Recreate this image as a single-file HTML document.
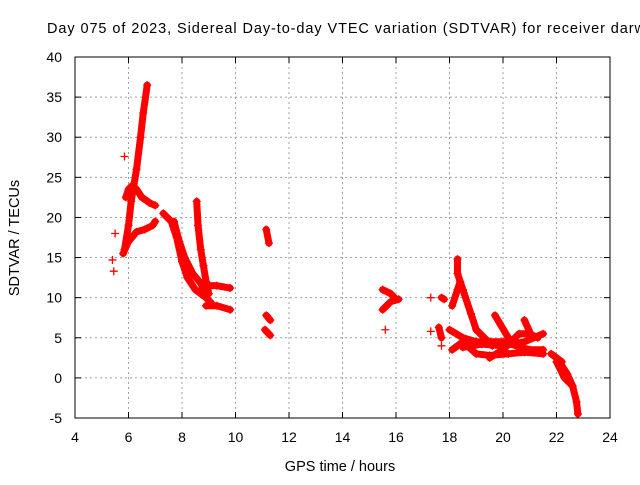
<!DOCTYPE html>
<html><head><meta charset="utf-8"><style>
body{margin:0;background:#fff;width:640px;height:480px;overflow:hidden}
svg{font-family:"Liberation Sans",sans-serif}
</style></head><body>
<svg id="chart" width="640" height="480" viewBox="0 0 640 480">
<rect width="640" height="480" fill="#fff"/>
<text x="47" y="33" font-size="14.5" fill="#000" textLength="598" lengthAdjust="spacing">Day 075 of 2023, Sidereal Day-to-day VTEC variation (SDTVAR) for receiver darw</text>
<g id="grid"></g><g id="marks"></g><g id="axes"></g>
<text transform="translate(19,238) rotate(-90)" text-anchor="middle" font-size="14.5">SDTVAR / TECUs</text>
<text x="340" y="471" text-anchor="middle" font-size="14.5">GPS time / hours</text>
</svg>
<script>
const xTicks=[4,6,8,10,12,14,16,18,20,22,24];
const yTicks=[-5,0,5,10,15,20,25,30,35,40];
const tracks=[
[[5.85,16],[6.0,19],[6.1,22],[6.3,26],[6.45,30],[6.55,33],[6.7,36.5]],
[[5.9,22.5],[6.0,23.5],[6.15,24],[6.3,23.5],[6.5,22.5],[6.8,21.8],[7.0,21.5]],
[[5.8,15.5],[6.0,17],[6.3,18.2],[6.6,18.5],[6.9,19],[7.0,19.5]],
[[7.3,20.5],[7.6,19.5],[7.8,17.5],[8.0,14.5],[8.2,12.5],[8.5,11],[8.9,10],[9.1,9.3]],
[[7.7,19.5],[7.9,17],[8.1,15],[8.4,13],[8.7,11.8],[8.8,11]],
[[8.55,22],[8.6,19],[8.7,16],[8.8,14],[8.9,12],[9.0,10.5]],
[[8.9,11.5],[9.3,11.5],[9.8,11.2]],
[[8.9,9],[9.3,9],[9.8,8.5]],
[[5.5,18]],[[5.4,14.7]],[[5.45,13.3]],[[5.85,27.6]],
[[11.15,18.5],[11.25,16.8]],[[11.15,7.8],[11.3,7.2]],[[11.1,6],[11.3,5.3]],
[[15.5,11],[15.8,10.5],[16.0,9.8]],[[15.5,8.5],[15.8,9.5],[16.1,9.8]],[[15.6,6]],
[[17.3,10]],[[17.3,5.8]],[[17.7,10],[17.8,9.8]],[[17.6,6.3],[17.7,5]],[[17.7,4]],
[[18.3,14.8],[18.3,13],[18.5,11],[18.8,8],[19.0,6],[19.3,5],[19.6,4]],
[[18.1,9],[18.3,11],[18.4,12]],
[[18.0,6],[18.5,5],[19,4.5],[19.5,4.5],[20,4.5],[20.5,4],[21,3.5],[21.5,3.5]],
[[18.1,3.5],[18.5,4.5],[19,3],[19.5,2.8],[20.2,3],[20.8,3.2],[21.5,3]],
[[19.5,2.5],[20,3.5],[20.6,5.5],[21,5.5],[21.3,5]],
[[18.5,3.8],[19.2,4.2],[20,4],[20.8,4.5],[21.5,5.5]],
[[19.7,7.8],[20.2,5]],[[20.8,7.2],[21.1,5]],[[21.8,3],[22.2,2]],
[[22.0,2.5],[22.2,1.5],[22.4,0.5],[22.6,-1],[22.75,-3],[22.8,-4.5]],
[[22.0,2],[22.3,0],[22.6,-1]]
];
const X0=75,X1=610,Y0=418,Y1=57;
const px=v=>X0+(v-4)/20*(X1-X0);
const py=v=>Y0-(v+5)/45*(Y0-Y1);
const NS="http://www.w3.org/2000/svg";
function mk(t,a,p){const e=document.createElementNS(NS,t);for(const k in a)e.setAttribute(k,a[k]);p.appendChild(e);return e;}
const grid=document.getElementById('grid'),axes=document.getElementById('axes'),marks=document.getElementById('marks');
xTicks.forEach(t=>{
 if(t>4&&t<24){const l=mk('line',{x1:px(t),x2:px(t),y1:Y1,y2:Y0,stroke:'#a0a0a0','stroke-dasharray':'2,3'},grid);
 
 }
 mk('line',{x1:px(t),x2:px(t),y1:Y0,y2:Y0-6,stroke:'#000'},axes);
 mk('line',{x1:px(t),x2:px(t),y1:Y1,y2:Y1+6,stroke:'#000'},axes);
 const tx=mk('text',{x:px(t),y:442,'text-anchor':'middle','font-size':'14'},axes);tx.textContent=t;
 
 
});
yTicks.forEach(t=>{
 if(t>-5&&t<40){const l=mk('line',{x1:X0,x2:X1,y1:py(t),y2:py(t),stroke:'#a0a0a0','stroke-dasharray':'2,3'},grid);
 
 }
 mk('line',{x1:X0,x2:X0+6,y1:py(t),y2:py(t),stroke:'#000'},axes);
 mk('line',{x1:X1,x2:X1-6,y1:py(t),y2:py(t),stroke:'#000'},axes);
 const tx=mk('text',{x:62,y:py(t)+5,'text-anchor':'end','font-size':'14'},axes);tx.textContent=t;
 
 
});
const fr=mk('rect',{x:X0,y:Y1,width:X1-X0,height:Y0-Y1,fill:'none',stroke:'#000'},axes);


tracks.forEach(tr=>{
 const g=mk('g',{},marks);
 
 
 if(tr.length>1){mk('polyline',{points:tr.map(p=>px(p[0])+','+py(p[1])).join(' '),fill:'none',stroke:'#f00','stroke-width':7,'stroke-linejoin':'round','stroke-linecap':'round'},g);}
 tr.forEach(p=>{const x=px(p[0]),y=py(p[1]);
  mk('path',{d:`M${x-4},${y}H${x+4}M${x},${y-4}V${y+4}`,stroke:'#f00','stroke-width':1.3},g);});
});
</script>
</body></html>
